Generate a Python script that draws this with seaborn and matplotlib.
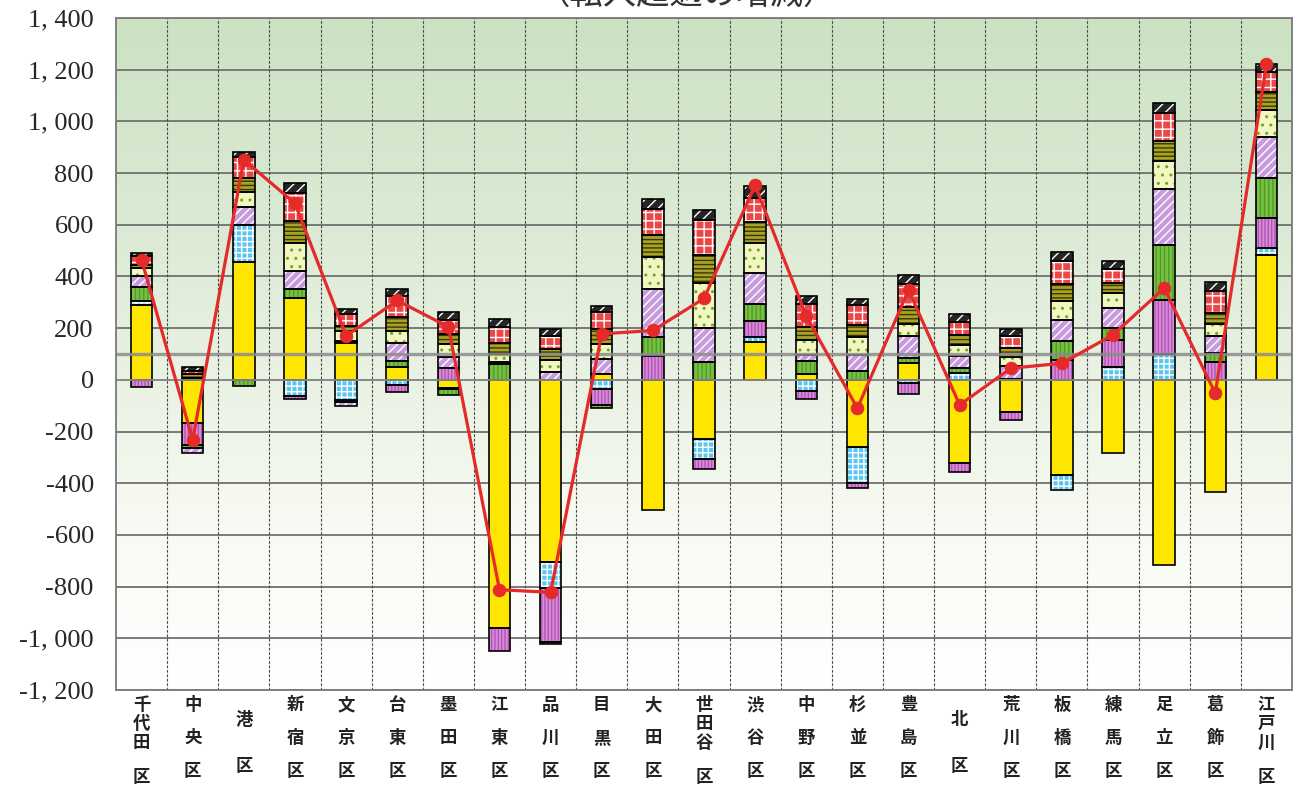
import numpy as np
import matplotlib
matplotlib.use("Agg")
import matplotlib.pyplot as plt
from matplotlib.colors import LinearSegmentedColormap
import seaborn as sns

# wards (x categories)
wards = ["千代田区", "中央区", "港区", "新宿区", "文京区", "台東区", "墨田区",
         "江東区", "品川区", "目黒区", "大田区", "世田谷区", "渋谷区", "中野区",
         "杉並区", "豊島区", "北区", "荒川区", "板橋区", "練馬区", "足立区",
         "葛飾区", "江戸川区"]

# stacked components, bottom to top
yellow = [290, -167, 456, 318, 142, 49, -32, -961, -703, 24, -505, -229,
          146, 24, -258, 67, -322, -124, -368, -284, -716, -432, 484]
cyan = [14, 0, 144, -64, -77, -19, -4, 0, -103, -34, 0, -78,
        18, -42, -142, -13, 28, 0, -60, 48, 100, 0, 26]
pink = [-26, -85, 0, -10, -10, -27, 46, -88, -207, -63, 92, -38,
        62, -33, -18, -42, -33, -30, 78, 107, 210, 68, 115]
green = [55, -12, -22, 35, 8, 22, -22, 60, -10, -10, 74, 70,
         68, 50, 33, 17, 16, 5, 72, 44, 210, 34, 155]
violet = [41, -20, 68, 70, -16, 72, 44, 8, 32, 56, 184, 132,
          118, 24, 64, 84, 50, 50, 80, 78, 218, 68, 160]
dots = [32, 8, 57, 108, 40, 45, 50, 32, 45, 57, 126, 172,
        118, 58, 70, 50, 40, 35, 76, 60, 110, 48, 104]
olive = [13, 14, 56, 85, 20, 55, 38, 42, 41, 61, 83, 108,
         82, 50, 46, 64, 40, 32, 66, 37, 76, 40, 71]
red = [34, 14, 83, 105, 46, 80, 55, 64, 50, 64, 102, 136,
       92, 86, 75, 90, 50, 48, 88, 56, 110, 86, 78]
black = [13, 14, 17, 42, 17, 30, 31, 29, 28, 24, 38, 40,
         46, 34, 25, 32, 31, 27, 34, 30, 36, 36, 29]

# net total (red line)
net = [465, -232, 851, 683, 170, 307, 205, -812, -822, 178, 191, 315,
       752, 247, -110, 348, -97, 45, 64, 174, 355, -52, 1222]

yticks = list(range(-1200, 1401, 200))

sns.set_style("white")
plt.rcParams["font.family"] = ["Noto Sans CJK JP", "DejaVu Sans"]
plt.rcParams["hatch.linewidth"] = 1.0

W, H = 1295, 785
fig = plt.figure(figsize=(W / 100, H / 100), dpi=100)
left, right, top, bottom_px = 116, 1292, 18, 690
ax = fig.add_axes([left / W, 1 - bottom_px / H, (right - left) / W, (bottom_px - top) / H])

n = len(wards)
pos_x = np.arange(n)

# background gradient
grad = np.linspace(0, 1, 256)[:, None]
bg = LinearSegmentedColormap.from_list(
    "bg", [(0, "#ffffff"), (0.25, "#f7faf2"), (0.45, "#eaf2e4"), (0.7, "#dbead4"), (1, "#cbe2c3")])
ax.imshow(grad, extent=[-0.5, n - 0.5, -1200, 1400], origin="lower", cmap=bg,
          aspect="auto", zorder=0)

# grid
for v in yticks:
    ax.axhline(v, color="#707070", lw=1.3, zorder=1)
for i in range(n - 1):
    ax.axvline(i + 0.5, color="#4a4a4a", lw=0.8, ls=(0, (2.5, 1.5)), zorder=1)

series = [
    (yellow, "#ffe600", None, "#ffe600"),
    (cyan, "#5cc6f0", "+++", "white"),
    (pink, "#d98ad9", "|||||", "#b055b0"),
    (green, "#78c040", "||||", "#4f9a2c"),
    (violet, "#c79bdd", "////", "white"),
    (dots, "#f3f6c0", "..", "#6aa82a"),
    (olive, "#a8a226", "----", "#3a3800"),
    (red, "#e94848", "++", "white"),
    (black, "#252525", "///", "white"),
]

pos_cum = np.zeros(n)
neg_cum = np.zeros(n)
for vals, face, hatch, hcol in series:
    v = np.array(vals, dtype=float)
    base = np.where(v >= 0, pos_cum, neg_cum)
    sns.barplot(x=pos_x, y=v, bottom=base, width=0.42, color=face, facecolor=face,
                edgecolor=hcol, hatch=hatch, linewidth=0, saturation=1,
                errorbar=None, ax=ax, zorder=2)
    sns.barplot(x=pos_x, y=v, bottom=base, width=0.42, color=face, facecolor="none",
                edgecolor="black", linewidth=1.2, saturation=1,
                errorbar=None, ax=ax, zorder=2.5)
    pos_cum += np.where(v > 0, v, 0)
    neg_cum += np.where(v < 0, v, 0)

# lines drawn over the bars
ax.axhline(100, color="#8c8c8c", lw=2.4, alpha=0.85, zorder=3)
ax.axhline(0, color="#8c8c8c", lw=1.3, zorder=3)

sns.lineplot(x=pos_x, y=net, color="#e52a2a", lw=2.3, marker="o", markersize=9,
             markeredgecolor="#e52a2a", sort=False, errorbar=None, ax=ax, zorder=4)

ax.set_xlim(-0.5, n - 0.5)
ax.set_ylim(-1200, 1400)
ax.set_xticks([])
ax.set_xlabel("")
ax.set_ylabel("")
ax.set_yticks(yticks)
ax.set_yticklabels([f"{t:,}".replace(",", ", ") for t in yticks],
                   fontfamily="Liberation Serif", fontsize=19)
ax.tick_params(axis="y", length=0, pad=16)
for s in ax.spines.values():
    s.set_color("#7a7a7a")
    s.set_linewidth(1.3)
    s.set_zorder(5)

# vertical ward labels under the axis
for i, name in enumerate(wards):
    xf = (left + (i + 0.5) * (right - left) / n) / W
    if len(name) == 4:
        rows = [705, 724, 743, 777]
    elif len(name) == 2:
        rows = [720, 766]
    else:
        rows = [705, 738, 771]
    for ch, ypx in zip(name, rows):
        fig.text(xf, 1 - ypx / H, ch, ha="center", va="center",
                 fontsize=12.5, fontweight="bold", color="#222222")

# title, cut off by the top edge as in the source
fig.text(687 / W, 1 + 6 / H, "（転入超過の増減）", ha="center", va="center",
         fontsize=24, color="#333333")

fig.savefig("out.png", dpi=100)
